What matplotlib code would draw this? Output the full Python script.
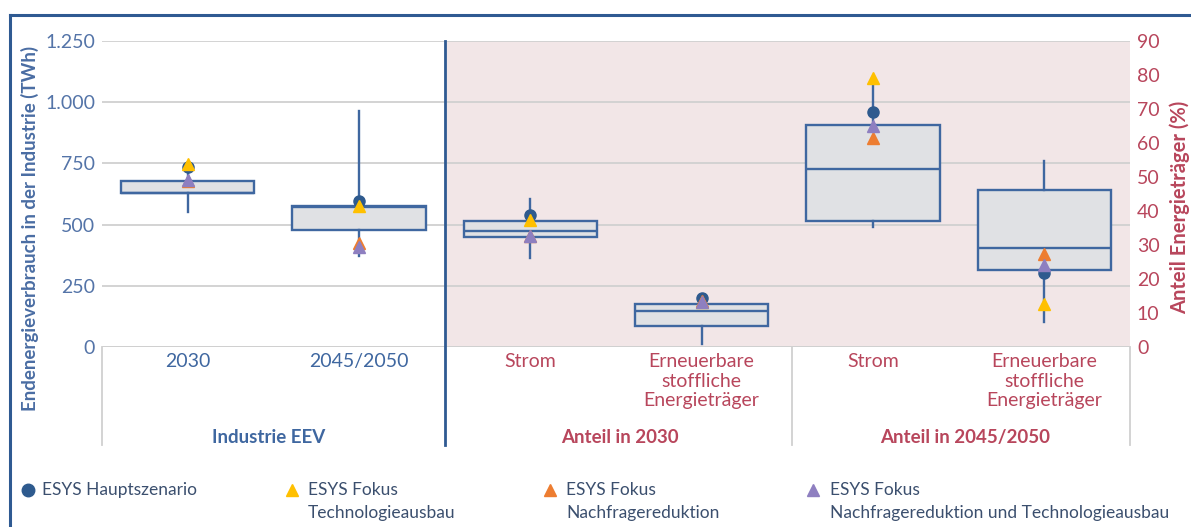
import matplotlib.pyplot as plt
from matplotlib.lines import Line2D
import matplotlib.transforms as mtransforms

plt.rcParams['font.family'] = ['Lato', 'DejaVu Sans']

categories = ["2030", "2045/2050", "Strom", "Erneuerbare\nstoffliche\nEnergieträger",
              "Strom", "Erneuerbare\nstoffliche\nEnergieträger"]
groups = ["Industrie EEV", "Anteil in 2030", "Anteil in 2045/2050"]
group_pos = [0.47, 2.52, 4.54]

# box statistics, left axis (TWh)
twh_q1 = [629, 478]
twh_med = [631, 572]
twh_q3 = [678, 574]
twh_lo = [551, 372]
twh_hi = [735, 964]

# box statistics, right axis (%)
pct_q1 = [32.3, 6.2, 37.1, 22.7]
pct_med = [34.1, 10.6, 52.3, 29.1]
pct_q3 = [37.1, 12.6, 65.3, 46.2]
pct_lo = [26.1, 0.9, 35.3, 7.3]
pct_hi = [43.5, 12.6, 78.8, 54.7]

# scenario values
haupt_twh = [735, 596]
tech_twh = [747, 576]
nachfrage_twh = [680, 425]
kombi_twh = [682, 409]

haupt_pct = [38.8, 14.4, 69.1, 21.8]
tech_pct = [37.4, 13.3, 79.0, 12.6]
nachfrage_pct = [32.6, 13.5, 61.5, 27.3]
kombi_pct = [32.6, 13.3, 65.0, 24.1]

BLUE = '#3F67A0'
DARK = '#2F5A92'
RED = '#B8465C'
GRID = '#D0D0D0'
BOXFACE = '#E0E1E4'
PINK = '#F2E6E7'
C_HAUPT = '#2E5A8E'
C_TECH = '#FFC000'
C_NACH = '#ED7D31'
C_KOMBI = '#8E7FC0'

fig = plt.figure(figsize=(11.91, 5.27), dpi=100)
ax = fig.add_axes([102 / 1191, 1 - 347 / 527, 1028 / 1191, 306 / 527])
ax2 = ax.twinx()

ax.set_xlim(-0.5, 5.5)
ax.set_ylim(0, 1250)
ax2.set_ylim(0, 90)

ax.axvspan(1.5, 5.5, color=PINK, zorder=0, lw=0)
ax.set_yticks([0, 250, 500, 750, 1000, 1250])
ax.set_yticklabels(["0", "250", "500", "750", "1.000", "1.250"])
ax.yaxis.grid(True, color=GRID, lw=1.3)
ax.set_axisbelow(True)
ax2.set_yticks(range(0, 91, 10))
for a in (ax, ax2):
    for s in a.spines.values():
        s.set_visible(False)
    a.set_xticks([])
ax.tick_params(axis='y', length=0, pad=5, labelsize=14, labelcolor='#5474A8')
ax2.tick_params(axis='y', length=0, pad=5, labelsize=14, labelcolor=RED)
ax.axhline(0, color=GRID, lw=1.3, zorder=1)


def make_stats(q1, med, q3, lo, hi):
    return [dict(q1=a, med=b, q3=c, whislo=d, whishi=e, fliers=[])
            for a, b, c, d, e in zip(q1, med, q3, lo, hi)]


box_kw = dict(widths=0.78, patch_artist=True, showcaps=False, showfliers=False,
              boxprops=dict(facecolor=BOXFACE, edgecolor=BLUE, linewidth=1.7),
              medianprops=dict(color=BLUE, linewidth=1.7),
              whiskerprops=dict(color=BLUE, linewidth=1.7))
ax.bxp(make_stats(twh_q1, twh_med, twh_q3, twh_lo, twh_hi), positions=[0, 1], **box_kw)
ax2.bxp(make_stats(pct_q1, pct_med, pct_q3, pct_lo, pct_hi), positions=[2, 3, 4, 5], **box_kw)
ax.set_xticks([])
ax2.set_xticks([])
ax.set_xlim(-0.5, 5.5)

pos_l = [0, 1]
pos_r = [2, 3, 4, 5]
for a, pos, vals, m, c in [
        (ax, pos_l, haupt_twh, 'o', C_HAUPT), (ax, pos_l, tech_twh, '^', C_TECH),
        (ax, pos_l, nachfrage_twh, '^', C_NACH), (ax, pos_l, kombi_twh, '^', C_KOMBI),
        (ax2, pos_r, haupt_pct, 'o', C_HAUPT), (ax2, pos_r, tech_pct, '^', C_TECH),
        (ax2, pos_r, nachfrage_pct, '^', C_NACH), (ax2, pos_r, kombi_pct, '^', C_KOMBI)]:
    a.plot(pos, vals, ls='none', marker=m, color=c, markersize=8, zorder=5)

# category and group labels below the plot
trans = mtransforms.blended_transform_factory(ax.transData, ax.transAxes)
for i, cat in enumerate(categories):
    col = BLUE if i < 2 else RED
    ax.text(i, -0.02, cat, transform=trans, ha='center', va='top', fontsize=14,
            color=col, linespacing=1.18)
for i, g in enumerate(groups):
    ax.text(group_pos[i], -0.295, g, transform=trans, ha='center', va='center',
            fontsize=13.5, fontweight='bold', color=BLUE if i == 0 else RED)

for x in [-0.5, 3.53, 5.5]:
    ax.plot([x, x], [0, -0.32], transform=trans, color=GRID, lw=1.3, clip_on=False)
ax.plot([1.5, 1.5], [1, -0.32], transform=trans, color=DARK, lw=2, clip_on=False, zorder=6)

fig.text(30 / 1191, 1 - 228 / 527, "Endenergieverbrauch in der Industrie (TWh)", rotation=90,
         ha='center', va='center', fontsize=13.5, fontweight='bold', color='#4A6DA3')
fig.text(1180 / 1191, 1 - 207 / 527, "Anteil Energieträger (%)", rotation=90,
         ha='center', va='center', fontsize=14.5, fontweight='bold', color=RED)

# outer frame
fig.add_artist(Line2D([10 / 1191, 1], [1 - 15 / 527, 1 - 15 / 527], color=DARK, lw=2.2))
fig.add_artist(Line2D([10 / 1191, 10 / 1191], [0, 1 - 15 / 527], color=DARK, lw=2.2))

# legend
legend_items = [("o", C_HAUPT, "ESYS Hauptszenario", 28, 42),
                ("^", C_TECH, "ESYS Fokus\nTechnologieausbau", 292, 308),
                ("^", C_NACH, "ESYS Fokus\nNachfragereduktion", 550, 566),
                ("^", C_KOMBI, "ESYS Fokus\nNachfragereduktion und Technologieausbau", 813, 830)]
for m, c, label, mx, tx in legend_items:
    fig.add_artist(Line2D([mx / 1191], [1 - 490 / 527], marker=m, color=c, markersize=9, ls='none'))
    fig.text(tx / 1191, 1 - 482 / 527, label, ha='left', va='top', fontsize=12.5,
             color='#3B4F6E', linespacing=1.55)

fig.savefig("out.png", dpi=100)
